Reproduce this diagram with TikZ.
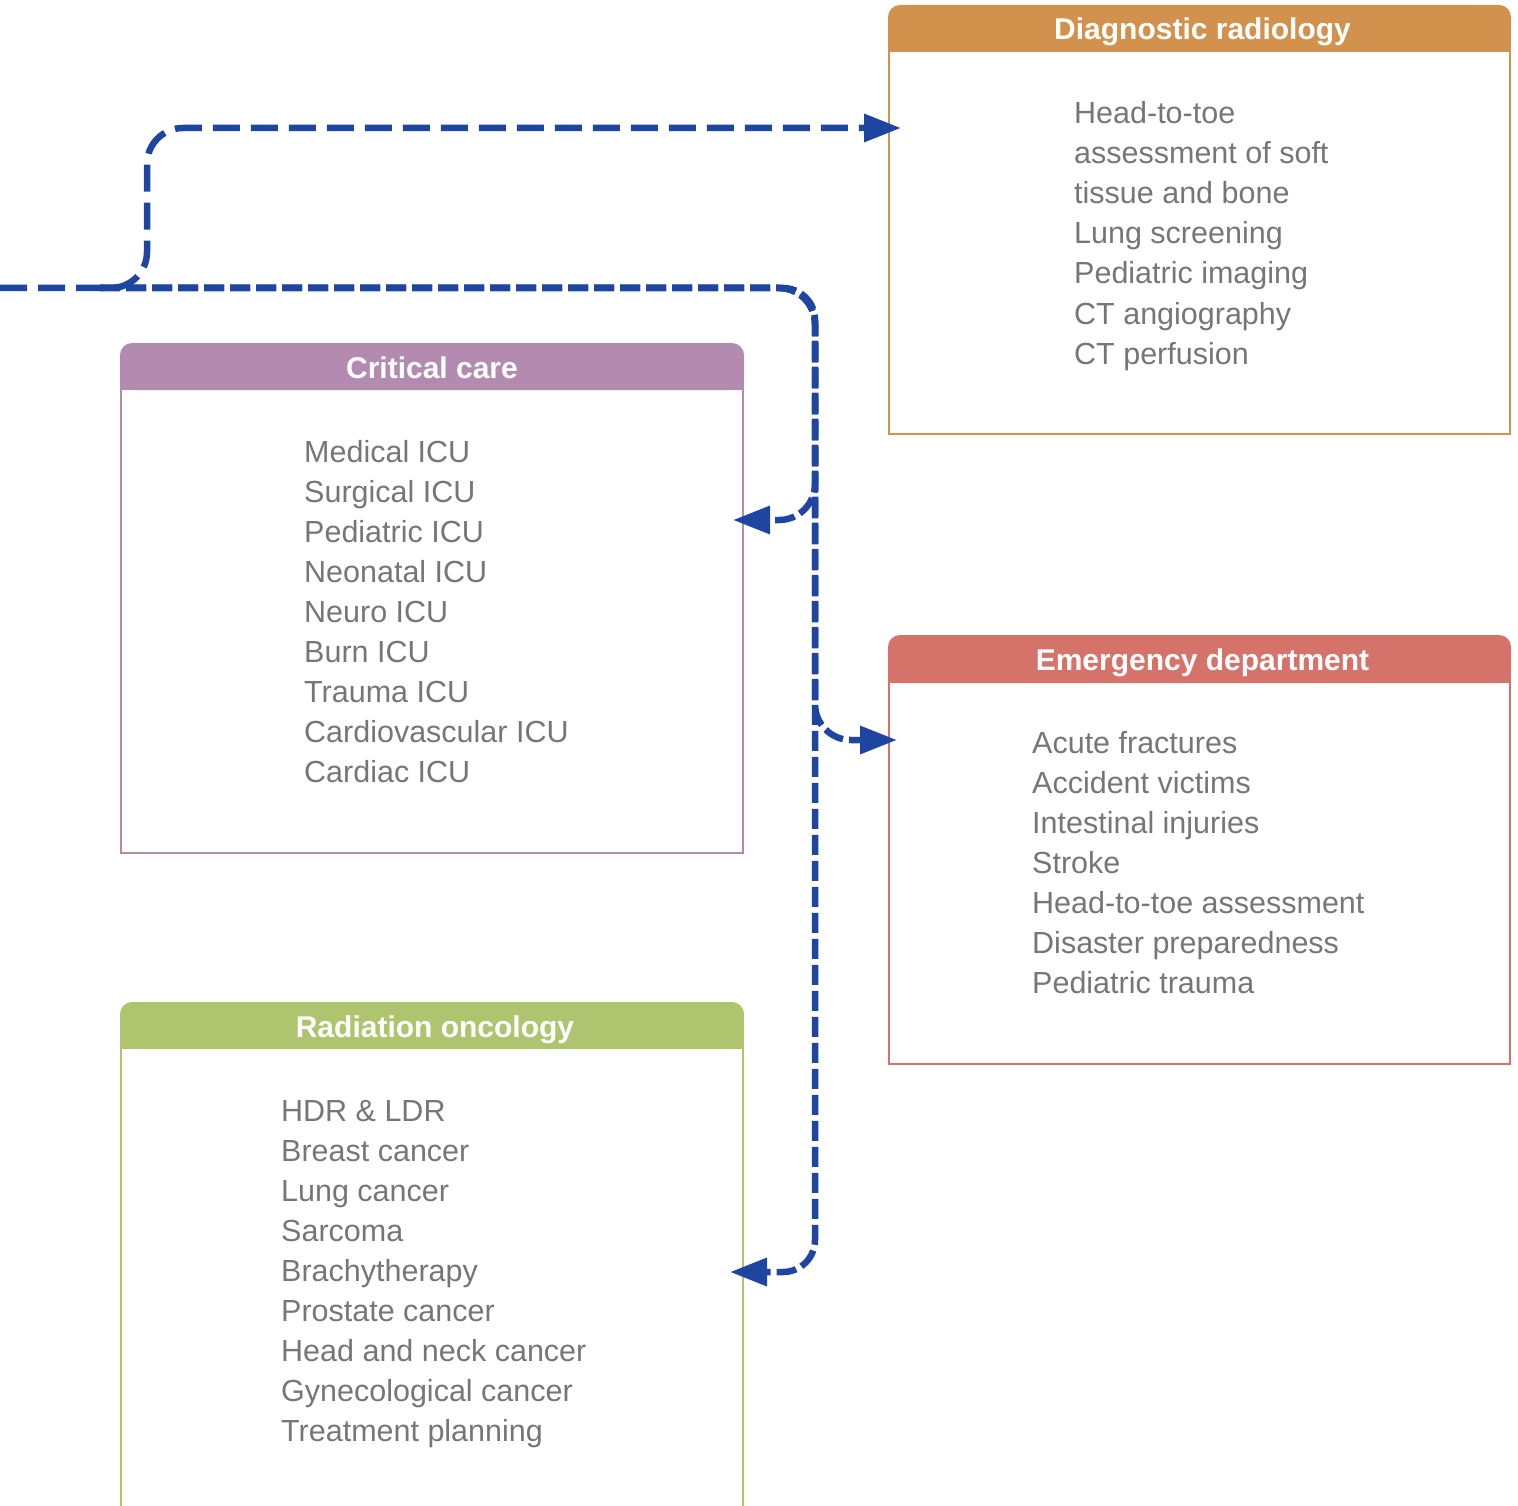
\documentclass[tikz,border=0pt]{standalone}
\usepackage{fontspec}
\setmainfont{Liberation Sans}
\usetikzlibrary{arrows.meta,calc}
\definecolor{linkblue}{HTML}{1E46A0}
\definecolor{cdr}{HTML}{D2924D}
\definecolor{ccc}{HTML}{B48BB0}
\definecolor{ced}{HTML}{D5736A}
\definecolor{cro}{HTML}{AEC46E}
\definecolor{txtgray}{HTML}{767676}
\begin{document}
\begin{tikzpicture}[x=1pt,y=-1pt,
  panel/.style={anchor=north west, inner sep=0pt, outer sep=0pt, minimum width=#1},
  item/.style={anchor=base west, inner sep=0pt, text=txtgray, font=\fontsize{30.5}{36}\selectfont},
  htext/.style={anchor=base, inner sep=0pt, text=white, font=\fontsize{30}{36}\selectfont\bfseries},
  frame/.style={draw=#1, line width=2pt},
  link/.style={draw=linkblue, line width=6.5pt, rounded corners=36pt, -{Triangle[length=37pt,width=27pt]}},
  trunkdash/.style={dash pattern=on 27pt off 11pt},
  branchdash/.style={dash pattern=on 20pt off 6pt}]
\useasboundingbox (0,0) rectangle (1518,1506);
\clip (0,0) rectangle (1518,1506);

% ---------- Diagnostic radiology
\node[panel=621pt, minimum height=428pt] (dr) at (889,6) {};
\draw[frame=cdr] ([yshift=-20pt]dr.north west) -- (dr.south west) -- (dr.south east) -- ([yshift=-20pt]dr.north east);
\fill[cdr, rounded corners=12pt] ($(dr.north west)+(-1,-1)$) rectangle ($(dr.north east)+(1,46)$);
\fill[cdr] ($(dr.north west)+(-1,20)$) rectangle ($(dr.north east)+(1,46)$);
\node[htext] (dr-t) at ($(dr.north)+(3,34)$) {Diagnostic radiology};
\foreach \t [count=\i from 0] in {Head-to-toe, assessment of soft, tissue and bone, Lung screening, Pediatric imaging, CT angiography, CT perfusion}
  \node[item] (dr-\i) at (1074,124+40*\i) {\t};

% ---------- Critical care
\node[panel=622pt, minimum height=509pt] (cc) at (121,344) {};
\draw[frame=ccc] ([yshift=-20pt]cc.north west) -- (cc.south west) -- (cc.south east) -- ([yshift=-20pt]cc.north east);
\fill[ccc, rounded corners=12pt] ($(cc.north west)+(-1,-1)$) rectangle ($(cc.north east)+(1,46)$);
\fill[ccc] ($(cc.north west)+(-1,20)$) rectangle ($(cc.north east)+(1,46)$);
\node[htext] (cc-t) at ($(cc.north)+(0,34)$) {Critical care};
\foreach \t [count=\i from 0] in {Medical ICU, Surgical ICU, Pediatric ICU, Neonatal ICU, Neuro ICU, Burn ICU, Trauma ICU, Cardiovascular ICU, Cardiac ICU}
  \node[item] (cc-\i) at (304,462+40*\i) {\t};

% ---------- Emergency department
\node[panel=621pt, minimum height=428pt] (ed) at (889,636) {};
\draw[frame=ced] ([yshift=-20pt]ed.north west) -- (ed.south west) -- (ed.south east) -- ([yshift=-20pt]ed.north east);
\fill[ced, rounded corners=12pt] ($(ed.north west)+(-1,-1)$) rectangle ($(ed.north east)+(1,47)$);
\fill[ced] ($(ed.north west)+(-1,20)$) rectangle ($(ed.north east)+(1,47)$);
\node[htext] (ed-t) at ($(ed.north)+(3,34)$) {Emergency department};
\foreach \t [count=\i from 0] in {Acute fractures, Accident victims, Intestinal injuries, Stroke, Head-to-toe assessment, Disaster preparedness, Pediatric trauma}
  \node[item] (ed-\i) at (1032,753+40*\i) {\t};

% ---------- Radiation oncology
\node[panel=622pt, minimum height=600pt] (ro) at (121,1003) {};
\draw[frame=cro] ([yshift=-20pt]ro.north west) -- (ro.south west) -- (ro.south east) -- ([yshift=-20pt]ro.north east);
\fill[cro, rounded corners=12pt] ($(ro.north west)+(-1,-1)$) rectangle ($(ro.north east)+(1,46)$);
\fill[cro] ($(ro.north west)+(-1,20)$) rectangle ($(ro.north east)+(1,46)$);
\node[htext] (ro-t) at ($(ro.north)+(3,34)$) {Radiation oncology};
\foreach \t [count=\i from 0] in {HDR \& LDR, Breast cancer, Lung cancer, Sarcoma, Brachytherapy, Prostate cancer, Head and neck cancer, Gynecological cancer, Treatment planning}
  \node[item] (ro-\i) at (281,1121+40*\i) {\t};

% ---------- connectors
\coordinate (src) at (0,288);
\coordinate (jn) at (100,288);
\draw[link, trunkdash] (src) -- (147,288) -- (147,128) -- ($(dr.north west)+(12,122)$);
\draw[link, branchdash] (jn) -- (815,288) -- (815,520) -- ($(cc.north east)+(-10,176)$);
\draw[link, branchdash] (jn) -- (815,288) -- (815,740) -- ($(ed.north west)+(8,104)$);
\draw[link, branchdash, rounded corners=32pt] (jn) -- (815,288) -- (815,1272) -- ($(ro.north east)+(-13,269)$);
\end{tikzpicture}
\end{document}
